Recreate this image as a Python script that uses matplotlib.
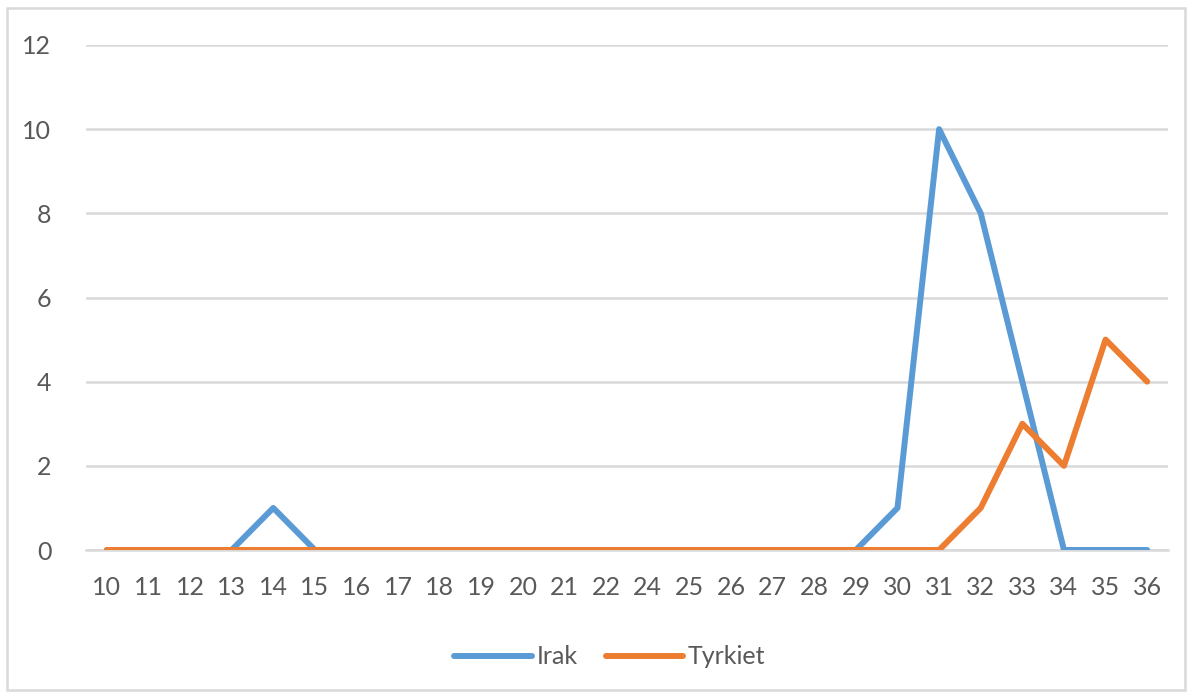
import matplotlib.pyplot as plt
from matplotlib.patches import Rectangle

weeks = ['10', '11', '12', '13', '14', '15', '16', '17', '18', '19', '20', '21', '22',
         '24', '25', '26', '27', '28', '29', '30', '31', '32', '33', '34', '35', '36']
irak = [0, 0, 0, 0, 1, 0, 0, 0, 0, 0, 0, 0, 0,
        0, 0, 0, 0, 0, 0, 1, 10, 8, 4, 0, 0, 0]
tyrkiet = [0, 0, 0, 0, 0, 0, 0, 0, 0, 0, 0, 0, 0,
           0, 0, 0, 0, 0, 0, 0, 0, 1, 3, 2, 5, 4]

plt.rcParams['font.family'] = ['Lato', 'DejaVu Sans']
text_col = '#595959'
grid_col = '#D9D9D9'

fig = plt.figure(figsize=(11.92, 6.97), dpi=100)
ax = fig.add_axes([86 / 1192, 1 - 550 / 697, (1168 - 86) / 1192, (550 - 45) / 697])

# outer chart border
fig.patches.append(Rectangle((7 / 1192, 1 - 690 / 697), 1178 / 1192, 682 / 697,
                             transform=fig.transFigure, fill=False,
                             edgecolor=grid_col, linewidth=1.8))

x = range(len(weeks))
ax.plot(x, irak, color='#5B9BD5', linewidth=4.3, label='Irak', zorder=3,
        solid_capstyle='round')
ax.plot(x, tyrkiet, color='#ED7D31', linewidth=4.3, label='Tyrkiet', zorder=3,
        solid_capstyle='round')

ax.set_xlim(-0.5, len(weeks) - 0.5)
ax.set_ylim(0, 12)
ax.set_yticks(range(0, 13, 2))
ax.set_xticks(list(x))
ax.set_xticklabels(weeks)
ax.yaxis.grid(True, color=grid_col, linewidth=1.8)
ax.set_axisbelow(True)
for side in ['top', 'right', 'left']:
    ax.spines[side].set_visible(False)
ax.spines['bottom'].set_color(grid_col)
ax.spines['bottom'].set_linewidth(1.8)
ax.tick_params(axis='both', length=0, labelsize=18, labelcolor=text_col)
ax.tick_params(axis='x', pad=19)
ax.tick_params(axis='y', pad=25)

leg = fig.legend(loc='center', bbox_to_anchor=(610 / 1192, 1 - 657 / 697), ncol=2,
                 frameon=False, fontsize=18, handlelength=3.1, handletextpad=0.2,
                 columnspacing=1.1)
for t in leg.get_texts():
    t.set_color(text_col)

fig.savefig('out.png', dpi=100)
